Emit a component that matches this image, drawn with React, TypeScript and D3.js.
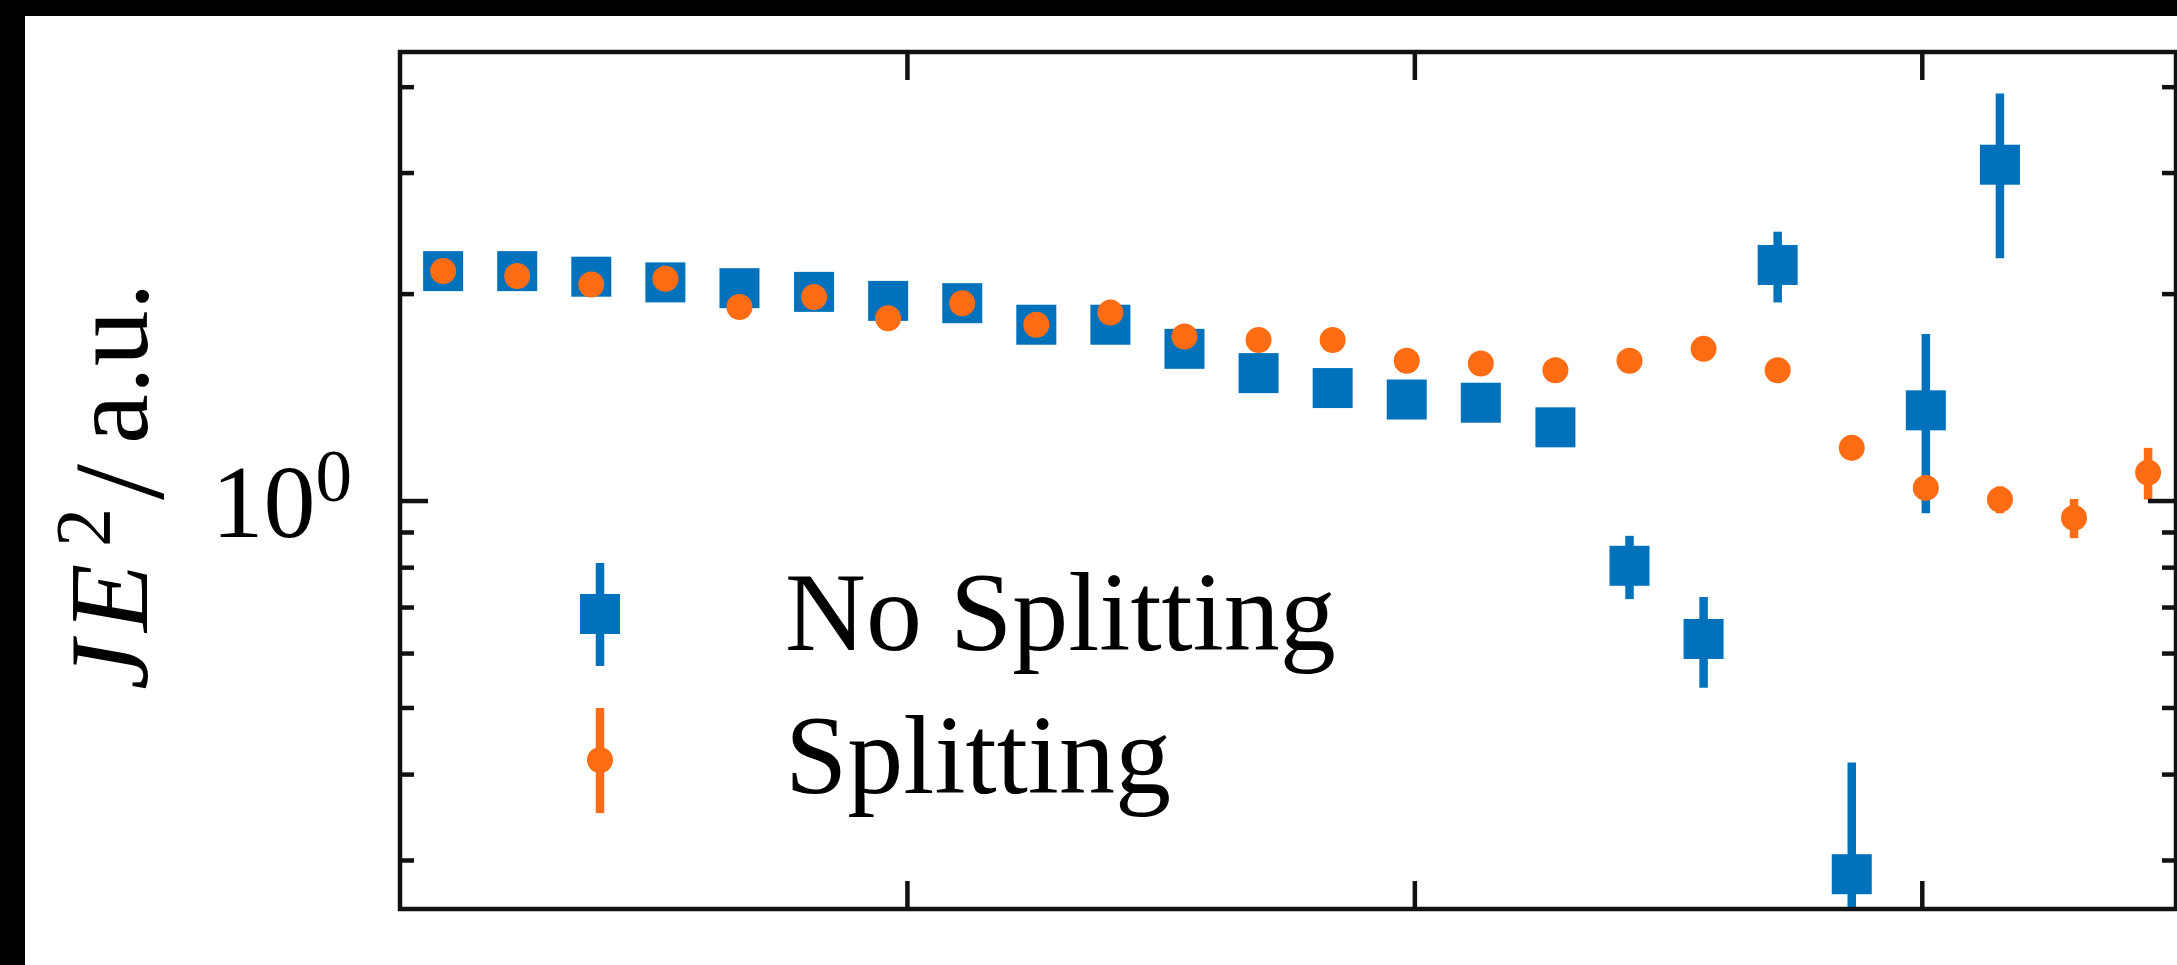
import * as d3 from 'd3';

// bin centres (arbitrary x units, axis has no labels)
const xBins = [0.085, 0.231, 0.377, 0.523, 0.669, 0.816, 0.962, 1.108, 1.254, 1.4, 1.546, 1.692,
  1.838, 1.984, 2.13, 2.277, 2.423, 2.569, 2.715, 2.861, 3.007, 3.153, 3.299, 3.445];

const noSplitVals = [2.16, 2.16, 2.12, 2.08, 2.04, 2.015, 1.955, 1.94, 1.805, 1.805, 1.665, 1.535,
  1.46, 1.405, 1.39, 1.28, 0.805, 0.63, 2.205, 0.2865, 1.355, 3.085];
const noSplitErr = [0.02, 0.02, 0.02, 0.02, 0.025, 0.025, 0.03, 0.03, 0.035, 0.035, 0.04, 0.04,
  0.045, 0.05, 0.055, 0.06, 0.085, 0.095, 0.26, 0.13, 0.395, 0.83];

const splitVals = [2.16, 2.125, 2.065, 2.105, 1.915, 1.98, 1.845, 1.94, 1.805, 1.88, 1.735, 1.715,
  1.715, 1.6, 1.585, 1.55, 1.6, 1.665, 1.55, 1.195, 1.045, 1.005, 0.945, 1.1];
const splitErr = [0.01, 0.01, 0.01, 0.01, 0.01, 0.01, 0.012, 0.012, 0.012, 0.012, 0.015, 0.015,
  0.015, 0.018, 0.018, 0.02, 0.02, 0.025, 0.025, 0.03, 0.035, 0.045, 0.062, 0.095];

const xTicks = [1, 2, 3];
const yMajor = [1];
const yMinor = [0.3, 0.4, 0.5, 0.6, 0.7, 0.8, 0.9, 2, 3, 4];

const BLUE = '#0072bc';
const ORANGE = '#ff6c14';
const FONT = '"Liberation Serif", "Times New Roman", serif';

const W = 2177;
const H = 965;
const M = { left: 400, right: 2176, top: 52, bottom: 909 };

export default function App() {
  const x = d3.scaleLinear().domain([0, 3.5]).range([M.left, M.right]);
  const y = d3.scaleLog().domain([0.255, 4.5]).range([M.bottom, M.top]);

  const noSplit = noSplitVals.map((v, i) => ({ x: xBins[i], v, e: noSplitErr[i] }));
  const split = splitVals.map((v, i) => ({ x: xBins[i], v, e: splitErr[i] }));

  const sq = 40;
  const r = 13;
  const ebw = 8.5;
  const tickW = 4.5;

  return (
    <svg width={W} height={H} style={{ position: 'absolute', left: 0, top: 0, display: 'block' }}>
      <rect x={0} y={0} width={W} height={H} fill="#000" />
      <rect x={25} y={16} width={W - 25} height={H - 16} fill="#fff" />
      <defs>
        <clipPath id="plot">
          <rect x={M.left} y={M.top} width={M.right - M.left} height={M.bottom - M.top} />
        </clipPath>
      </defs>

      <g clipPath="url(#plot)">
        {noSplit.map((d, i) => (
          <g key={'b' + i}>
            <line x1={x(d.x)} x2={x(d.x)} y1={y(Math.max(d.v - d.e, 0.01))} y2={y(d.v + d.e)}
              stroke={BLUE} strokeWidth={ebw} />
            <rect x={x(d.x) - sq / 2} y={y(d.v) - sq / 2} width={sq} height={sq} fill={BLUE} />
          </g>
        ))}
        {split.map((d, i) => (
          <g key={'o' + i}>
            <line x1={x(d.x)} x2={x(d.x)} y1={y(d.v - d.e)} y2={y(d.v + d.e)}
              stroke={ORANGE} strokeWidth={ebw} />
            <circle cx={x(d.x)} cy={y(d.v)} r={r} fill={ORANGE} />
          </g>
        ))}
      </g>

      {/* ticks, mirrored on all sides */}
      <g stroke="#111" strokeWidth={tickW}>
        {xTicks.map(t => (
          <g key={'xt' + t}>
            <line x1={x(t)} x2={x(t)} y1={M.bottom} y2={M.bottom - 28} />
            <line x1={x(t)} x2={x(t)} y1={M.top} y2={M.top + 28} />
          </g>
        ))}
        {yMajor.map(t => (
          <g key={'ym' + t}>
            <line x1={M.left} x2={M.left + 28} y1={y(t)} y2={y(t)} />
            <line x1={M.right} x2={M.right - 28} y1={y(t)} y2={y(t)} />
          </g>
        ))}
        {yMinor.map(t => (
          <g key={'yn' + t}>
            <line x1={M.left} x2={M.left + 14} y1={y(t)} y2={y(t)} />
            <line x1={M.right} x2={M.right - 14} y1={y(t)} y2={y(t)} />
          </g>
        ))}
      </g>
      <rect x={M.left} y={M.top} width={M.right - M.left} height={M.bottom - M.top}
        fill="none" stroke="#111" strokeWidth={4.5} />

      {/* y tick label */}
      {yMajor.map(t => (
        <text key={'yl' + t} x={352} y={y(t) + 36} textAnchor="end" fontFamily={FONT} fontSize={104} fill="#000">
          10<tspan fontSize={73} dy={-36}>0</tspan>
        </text>
      ))}

      {/* y axis label */}
      <g transform="translate(147,690) rotate(-90)" fontFamily={FONT} fill="#000">
        <text x={0} y={0} fontSize={112} fontStyle="italic">J</text>
        <text x={58} y={0} fontSize={112} fontStyle="italic">E</text>
        <text x={143} y={-38} fontSize={78}>2</text>
        <text x={190} y={16} fontSize={130}>/</text>
        <text x={246} y={0} fontSize={112}>a.u.</text>
      </g>

      {/* legend */}
      <g>
        <line x1={600} x2={600} y1={563} y2={666} stroke={BLUE} strokeWidth={ebw} />
        <rect x={600 - sq / 2} y={614 - sq / 2} width={sq} height={sq} fill={BLUE} />
        <line x1={600} x2={600} y1={708} y2={813} stroke={ORANGE} strokeWidth={ebw} />
        <circle cx={600} cy={760} r={r} fill={ORANGE} />
        <text x={785} y={650} fontFamily={FONT} fontSize={112} fill="#000">No Splitting</text>
        <text x={785} y={793} fontFamily={FONT} fontSize={112} fill="#000">Splitting</text>
      </g>
    </svg>
  );
}
